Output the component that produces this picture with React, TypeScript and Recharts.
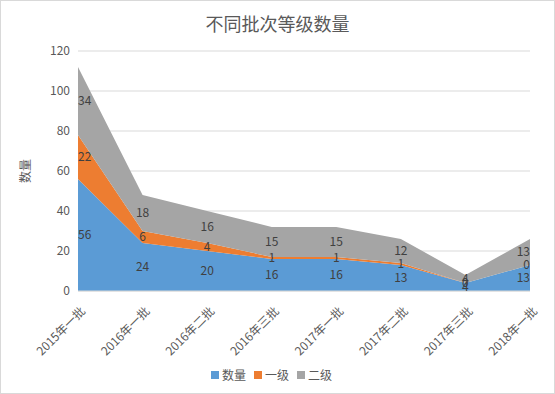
import {
  Area,
  CartesianGrid,
  ComposedChart,
  LabelList,
  Legend,
  Line,
  XAxis,
  YAxis,
} from 'recharts'

const categories = ['2015年一批', '2016年一批', '2016年二批', '2016年三批', '2017年一批', '2017年二批', '2017年三批', '2018年一批']
const countValues = [56, 24, 20, 16, 16, 13, 4, 13]
const level1Values = [22, 6, 4, 1, 1, 1, 0, 0]
const level2Values = [34, 18, 16, 15, 15, 12, 4, 13]
const yTicks = [0, 20, 40, 60, 80, 100, 120]

const FONT = '"Noto Sans CJK SC", "Noto Sans", sans-serif'
const TEXT = '#595959'

const seriesList = [
  { key: 'count', name: '数量', color: '#5b9bd5' },
  { key: 'level1', name: '一级', color: '#ed7d31' },
  { key: 'level2', name: '二级', color: '#a5a5a5' },
]

// label anchors sit in the middle of each stacked band, like Excel does
const data = categories.map((name, i) => ({
  name,
  count: countValues[i],
  level1: level1Values[i],
  level2: level2Values[i],
  countMid: countValues[i] / 2,
  level1Mid: countValues[i] + level1Values[i] / 2,
  level2Mid: countValues[i] + level1Values[i] + level2Values[i] / 2,
}))

function makeLabel(values: number[]) {
  return (props: any) => {
    const { x, y, index } = props
    const last = categories.length - 1
    const anchor = index === 0 ? 'start' : index === last ? 'end' : 'middle'
    return (
      <text x={x} y={y} dy={4} textAnchor={anchor} fontSize={12} fill="#404040" fontFamily={FONT}>
        {values[index]}
      </text>
    )
  }
}

function CategoryTick(props: any) {
  const { x, y, payload } = props
  return (
    <text
      transform={`translate(${x + 8},${y + 13}) rotate(-45)`}
      textAnchor="end"
      fontSize={12}
      fill={TEXT}
      fontFamily={FONT}
    >
      {payload.value}
    </text>
  )
}

function LegendContent() {
  return (
    <div style={{ display: 'flex', justifyContent: 'center', gap: 8, fontSize: 12, color: TEXT, lineHeight: '20px' }}>
      {seriesList.map((s) => (
        <span key={s.key} style={{ display: 'flex', alignItems: 'center' }}>
          <span style={{ width: 8, height: 8, background: s.color, display: 'inline-block', marginRight: 3 }} />
          {s.name}
        </span>
      ))}
    </div>
  )
}

export default function App() {
  return (
    <div
      style={{
        position: 'absolute',
        left: 0,
        top: 0,
        width: 555,
        height: 394,
        boxSizing: 'border-box',
        border: '1px solid #d9d9d9',
        background: '#fff',
        fontFamily: FONT,
      }}
    >
      <div
        style={{
          position: 'absolute',
          top: 9,
          width: '100%',
          textAlign: 'center',
          fontSize: 18,
          color: TEXT,
        }}
      >
        不同批次等级数量
      </div>
      <ComposedChart width={553} height={392} data={data} margin={{ top: 50, right: 24, left: 12, bottom: 8 }}>
        <CartesianGrid vertical={false} stroke="#d9d9d9" />
        <XAxis
          dataKey="name"
          interval={0}
          height={74}
          tickLine={false}
          axisLine={{ stroke: '#d9d9d9' }}
          tick={<CategoryTick />}
        />
        <YAxis
          width={65}
          domain={[0, 120]}
          ticks={yTicks}
          axisLine={false}
          tickLine={false}
          tick={{ fontSize: 12, fill: TEXT, fontFamily: FONT }}
          label={{
            content: (p: any) => {
              const vb = p.viewBox
              const cx = vb.x + 17
              const cy = vb.y + vb.height / 2
              return (
                <text x={cx} y={cy} transform={`rotate(-90,${cx},${cy})`} textAnchor="middle" fontSize={12} fill={TEXT} fontFamily={FONT}>
                  数量
                </text>
              )
            },
          }}
        />
        <Legend content={<LegendContent />} height={20} />
        {seriesList.map((s) => (
          <Area
            key={s.key}
            type="linear"
            dataKey={s.key}
            name={s.name}
            stackId="a"
            fill={s.color}
            fillOpacity={1}
            stroke="none"
            isAnimationActive={false}
          />
        ))}
        <Line dataKey="countMid" stroke="none" dot={false} activeDot={false} legendType="none" isAnimationActive={false}>
          <LabelList dataKey="countMid" content={makeLabel(countValues)} />
        </Line>
        <Line dataKey="level1Mid" stroke="none" dot={false} activeDot={false} legendType="none" isAnimationActive={false}>
          <LabelList dataKey="level1Mid" content={makeLabel(level1Values)} />
        </Line>
        <Line dataKey="level2Mid" stroke="none" dot={false} activeDot={false} legendType="none" isAnimationActive={false}>
          <LabelList dataKey="level2Mid" content={makeLabel(level2Values)} />
        </Line>
      </ComposedChart>
    </div>
  )
}
